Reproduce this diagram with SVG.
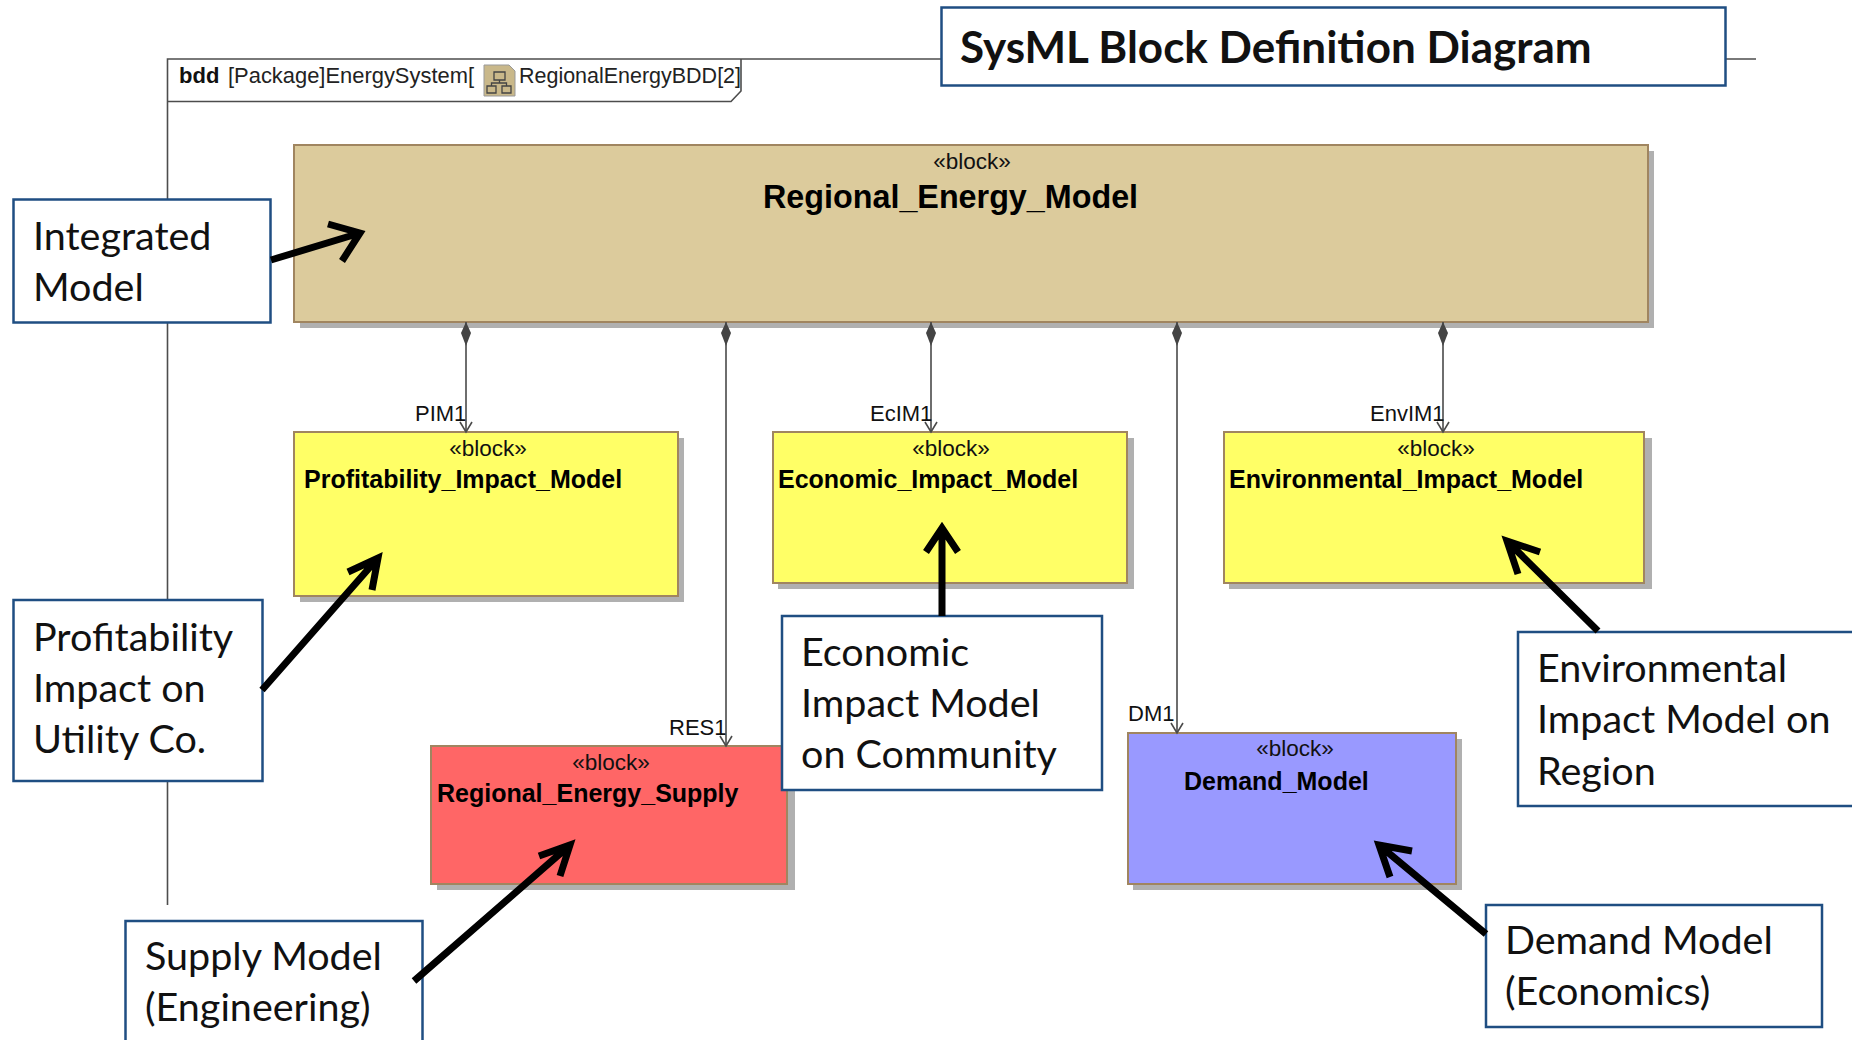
<svg xmlns="http://www.w3.org/2000/svg" width="1852" height="1040" viewBox="0 0 1852 1040">
<style>
.b{stroke:#a08560;stroke-width:2}
.s{fill:#b0b0b0}
.st{font:22.500px "Liberation Sans",Arial,sans-serif;fill:#111;text-anchor:middle}
.n{font:bold 25px "Liberation Sans",Arial,sans-serif;fill:#000}
.l{font:22px "Liberation Sans",Arial,sans-serif;fill:#111}
.c{fill:#fff;stroke:#1f4e82;stroke-width:2.5}
.t{font:39.500px Lato,"Liberation Sans",sans-serif;fill:#111}
.cn{stroke:#4a4a4a;stroke-width:1.6;fill:none}
.a{stroke:#000;stroke-width:7;fill:none}
</style>
<defs>
<marker id="dia" markerUnits="userSpaceOnUse" markerWidth="12" markerHeight="26" refX="6" refY="0" orient="0" overflow="visible"><path d="M6 0L11 11L6 24L1 11Z" fill="#444"/></marker>
<marker id="open" markerUnits="userSpaceOnUse" markerWidth="14" markerHeight="12" refX="7" refY="11" orient="0" overflow="visible"><path d="M1 1L7 11L13 1" fill="none" stroke="#4a4a4a" stroke-width="1.6"/></marker>
</defs>
<rect width="1852" height="1040" fill="#fff"/>
<g id="frame">
<path d="M167.500 905V59H1756" fill="none" stroke="#4d4d4d" stroke-width="1.6"/>
<path d="M168 101.500H731L741 91V59" fill="none" stroke="#4d4d4d" stroke-width="1.6"/>
<text x="179" y="83" font-family="Liberation Sans" font-size="22" font-weight="bold" fill="#111">bdd</text>
<text x="228" y="83" font-family="Liberation Sans" font-size="22.5" fill="#222" textLength="246" lengthAdjust="spacingAndGlyphs">[Package]EnergySystem[</text>
<path d="M484 65H509L515 71V96H484Z" fill="#c9b88a" stroke="#999"/>
<path d="M494 72h11v8h-11zM487 86h9v7h-9zM502 86h9v7h-9zM499.500 80v3M491.500 86v-3h15v3" fill="none" stroke="#444" stroke-width="1.300"/>
<text x="519" y="83" font-family="Liberation Sans" font-size="22.5" fill="#222" textLength="222" lengthAdjust="spacingAndGlyphs">RegionalEnergyBDD[2]</text>
</g>
<g id="regional-energy-model">
<rect class="s" x="300" y="151" width="1354" height="177"/>
<rect class="b" x="294" y="145" width="1354" height="177" fill="#dccb9c"/>
<text class="st" x="972" y="169">«block»</text>
<text class="n" x="763" y="208" style="font-size:32.300px">Regional_Energy_Model</text>
</g>
<g id="profitability-impact-model">
<rect class="s" x="300" y="438" width="384" height="164"/>
<rect class="b" x="294" y="432" width="384" height="164" fill="#ffff66"/>
<text class="st" x="488" y="456">«block»</text>
<text class="n" x="304" y="488">Profitability_Impact_Model</text>
</g>
<g id="economic-impact-model">
<rect class="s" x="778" y="438" width="356" height="151"/>
<rect class="b" x="773" y="432" width="354" height="151" fill="#ffff66"/>
<text class="st" x="951" y="456">«block»</text>
<text class="n" x="778" y="488">Economic_Impact_Model</text>
</g>
<g id="environmental-impact-model">
<rect class="s" x="1229" y="438" width="423" height="151"/>
<rect class="b" x="1224" y="432" width="420" height="151" fill="#ffff66"/>
<text class="st" x="1436" y="456">«block»</text>
<text class="n" x="1229" y="488">Environmental_Impact_Model</text>
</g>
<g id="regional-energy-supply">
<rect class="s" x="437" y="752" width="358" height="138"/>
<rect class="b" x="431" y="746" width="356" height="138" fill="#ff6666"/>
<text class="st" x="611" y="770">«block»</text>
<text class="n" x="437" y="802">Regional_Energy_Supply</text>
</g>
<g id="demand-model">
<rect class="s" x="1133" y="739" width="329" height="151"/>
<rect class="b" x="1128" y="733" width="328" height="151" fill="#9999ff"/>
<text class="st" x="1295" y="756">«block»</text>
<text class="n" x="1184" y="790">Demand_Model</text>
</g>
<g id="connectors">
<path class="cn" d="M466 322V432" marker-start="url(#dia)" marker-end="url(#open)"/>
<path class="cn" d="M726 322V746" marker-start="url(#dia)" marker-end="url(#open)"/>
<path class="cn" d="M931 322V432" marker-start="url(#dia)" marker-end="url(#open)"/>
<path class="cn" d="M1177 322V733" marker-start="url(#dia)" marker-end="url(#open)"/>
<path class="cn" d="M1443 322V432" marker-start="url(#dia)" marker-end="url(#open)"/>
<text class="l" x="415" y="421">PIM1</text>
<text class="l" x="669" y="735">RES1</text>
<text class="l" x="870" y="421">EcIM1</text>
<text class="l" x="1128" y="721">DM1</text>
<text class="l" x="1370" y="421">EnvIM1</text>
</g>
<g id="title">
<rect class="c" x="941.500" y="7.500" width="784" height="78"/>
<text x="960" y="63" font-family="Lato,Liberation Sans,sans-serif" font-size="44" font-weight="bold" fill="#111">SysML Block Definition Diagram</text>
</g>
<g id="callout-integrated">
<rect class="c" x="13.500" y="199.500" width="257" height="123"/>
<text class="t"><tspan x="33" y="250">Integrated</tspan><tspan x="33" y="301">Model</tspan></text>
</g>
<g id="callout-profitability">
<rect class="c" x="13.500" y="600" width="249" height="181"/>
<text class="t"><tspan x="33" y="650.500">Profitability</tspan><tspan x="33" y="701.500">Impact on</tspan><tspan x="33" y="752.500">Utility Co.</tspan></text>
</g>
<g id="callout-economic">
<rect class="c" x="782" y="616" width="320" height="174"/>
<text class="t"><tspan x="801" y="666">Economic</tspan><tspan x="801" y="717">Impact Model</tspan><tspan x="801" y="768">on Community</tspan></text>
</g>
<g id="callout-environmental">
<rect class="c" x="1518" y="632" width="340" height="174"/>
<text class="t"><tspan x="1537" y="682">Environmental</tspan><tspan x="1537" y="733">Impact Model on</tspan><tspan x="1537" y="785">Region</tspan></text>
</g>
<g id="callout-supply">
<rect class="c" x="125.500" y="921" width="297" height="130"/>
<text class="t"><tspan x="145" y="970">Supply Model</tspan><tspan x="145" y="1021">(Engineering)</tspan></text>
</g>
<g id="callout-demand">
<rect class="c" x="1486" y="905" width="336" height="122"/>
<text class="t"><tspan x="1505" y="954">Demand Model</tspan><tspan x="1505" y="1005">(Economics)</tspan></text>
</g>
<g id="annotation-arrows">
<path class="a" d="M271 260L360 233M328 224L360 233L342 261"/>
<path class="a" d="M262 690L378 558M348 572L378 558L372 590"/>
<path class="a" d="M942 616V528M926 552L942 528L958 552"/>
<path class="a" d="M1598 631L1507 541M1540 552L1507 541L1518 574"/>
<path class="a" d="M414 981L570 845M539 856L570 845L560 876"/>
<path class="a" d="M1486 934L1379 845M1412 851L1379 845L1390 877"/>
</g>
</svg>
